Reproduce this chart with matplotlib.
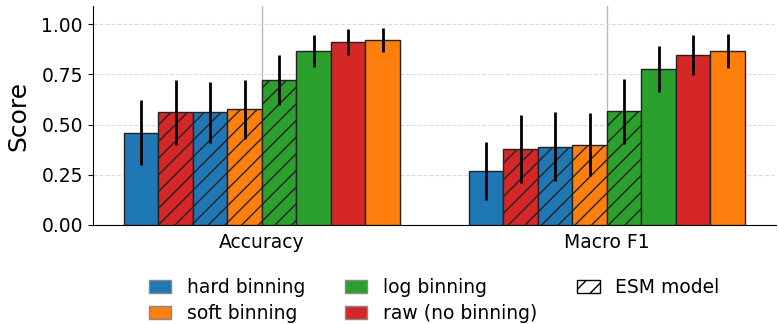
import matplotlib.pyplot as plt
from matplotlib.patches import Patch
import numpy as np

# ── Data ──────────────────────────────────────────────────────────
metrics = ["Accuracy", "Macro F1"]
bar_methods = ["hard", "raw", "hard", "soft", "log", "log", "raw", "soft"]
bar_esm = [False, True, True, True, True, False, False, False]
acc_mean = [0.46, 0.56, 0.56, 0.575, 0.72, 0.865, 0.91, 0.92]
acc_err = [0.16, 0.16, 0.15, 0.145, 0.125, 0.08, 0.065, 0.06]
f1_mean = [0.27, 0.38, 0.39, 0.40, 0.565, 0.775, 0.845, 0.865]
f1_err = [0.145, 0.17, 0.17, 0.155, 0.16, 0.115, 0.10, 0.085]

colors = {"hard": "#1f77b4", "soft": "#ff7f0e", "log": "#2ca02c", "raw": "#d62728"}
labels = {"hard": "hard binning", "soft": "soft binning",
          "log": "log binning", "raw": "raw (no binning)"}

plt.rcParams["hatch.linewidth"] = 1.0

fig = plt.figure(figsize=(7.79, 3.24), dpi=100)
ax = fig.add_axes([0.119, 0.306, 0.877, 0.675])

x = np.arange(len(metrics))
width = 0.1
n = len(bar_methods)
for i in range(n):
    offs = (i - (n - 1) / 2) * width
    means = [acc_mean[i], f1_mean[i]]
    errs = [acc_err[i], f1_err[i]]
    ax.bar(x + offs, means, width, color=colors[bar_methods[i]],
           edgecolor="#222222", linewidth=1.0,
           hatch="//" if bar_esm[i] else None, zorder=3)
    ax.errorbar(x + offs, means, yerr=errs, fmt="none", ecolor="black",
                elinewidth=2, capsize=0, zorder=4)

ax.set_xticks(x)
ax.set_xticklabels(metrics, fontsize=13.5)
ax.tick_params(axis="x", length=0, pad=6)
ax.tick_params(axis="y", labelsize=13.5)
ax.set_yticks([0, 0.25, 0.5, 0.75, 1.0])
ax.set_ylim(0, 1.09)
ax.set_xlim(-0.49, 1.49)
ax.set_ylabel("Score", fontsize=18, labelpad=8)
ax.grid(axis="y", linestyle="--", color="#dddddd", linewidth=0.8, zorder=0)
ax.grid(axis="x", linestyle="-", color="#bbbbbb", linewidth=1.0, zorder=0)
ax.spines["top"].set_visible(False)
ax.spines["right"].set_visible(False)

handles = [Patch(facecolor=colors[k], edgecolor="#888888", label=labels[k])
           for k in ["hard", "soft", "log", "raw"]]
handles.append(Patch(facecolor="white", edgecolor="black", hatch="//",
                     label="ESM model"))
fig.legend(handles=handles, loc="upper left", bbox_to_anchor=(0.191, 0.141),
           ncol=3, frameon=False, fontsize=13.5, handlelength=1.2,
           handleheight=0.65, handletextpad=0.85, columnspacing=2.1,
           labelspacing=0.35, borderpad=0, borderaxespad=0)

plt.savefig("out.png", dpi=100)
